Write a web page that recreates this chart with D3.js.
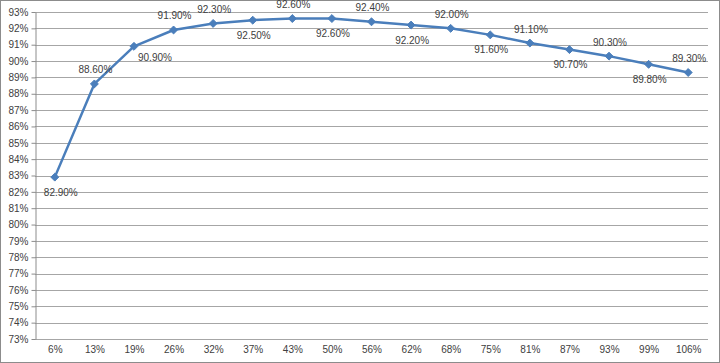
<!DOCTYPE html>
<html>
<head>
<meta charset="utf-8">
<script src="https://cdn.jsdelivr.net/npm/d3@7"></script>
<style>
  body { margin: 0; background: #fff; }
  svg { display: block; font-family: "Liberation Sans", Arial, sans-serif; }
</style>
</head>
<body>
<svg id="chart" width="720" height="363"></svg>
<script>
const categories = ["6%", "13%", "19%", "26%", "32%", "37%", "43%", "50%", "56%", "62%", "68%", "75%", "81%", "87%", "93%", "99%", "106%"];
const efficiency = [82.9, 88.6, 90.9, 91.9, 92.3, 92.5, 92.6, 92.6, 92.4, 92.2, 92.0, 91.6, 91.1, 90.7, 90.3, 89.8, 89.3];
const yTicks = d3.range(73, 94, 1);
// where each data label sits relative to its point
const labelSide = ["below", "above", "right", "above", "above", "below", "above", "below", "above", "below", "above", "below", "above", "below", "above", "below", "above"];

const width = 720, height = 363;
const margin = { top: 12, right: 12, bottom: 24, left: 35 };

const svg = d3.select("#chart");

// outer frame
svg.append("rect")
  .attr("x", 0.5).attr("y", 0.5)
  .attr("width", width - 1).attr("height", height - 1)
  .attr("fill", "#fff")
  .attr("stroke", "#8c8c8c");

const x = d3.scalePoint()
  .domain(categories)
  .range([margin.left, width - margin.right])
  .padding(0.5);

const y = d3.scaleLinear()
  .domain([73, 93])
  .range([height - margin.bottom, margin.top]);

// gridlines
svg.append("g")
  .selectAll("line")
  .data(yTicks)
  .join("line")
  .attr("x1", margin.left)
  .attr("x2", width - margin.right)
  .attr("y1", d => Math.round(y(d)) + 0.5)
  .attr("y2", d => Math.round(y(d)) + 0.5)
  .attr("stroke", "#a6a6a6");

// y axis
const yAxis = svg.append("g")
  .attr("transform", `translate(${margin.left + 0.5},0)`)
  .call(d3.axisLeft(y).tickValues(yTicks).tickSize(4).tickSizeOuter(0).tickFormat(d => d + "%"));
yAxis.select(".domain").attr("stroke", "#8c8c8c");
yAxis.selectAll(".tick line").attr("stroke", "#8c8c8c");
yAxis.selectAll(".tick text").attr("font-size", 10).attr("fill", "#404040").attr("x", -7);

// x axis
const xAxis = svg.append("g")
  .attr("transform", `translate(0,${Math.round(y(73)) + 0.5})`)
  .call(d3.axisBottom(x).tickSize(0).tickSizeOuter(0));
xAxis.select(".domain").remove();
xAxis.selectAll(".tick text").attr("font-size", 10).attr("fill", "#404040").attr("y", 6).attr("dy", "0.71em");

const pts = categories.map((c, i) => ({ c, v: efficiency[i], side: labelSide[i] }));

// line
svg.append("path")
  .datum(pts)
  .attr("fill", "none")
  .attr("stroke", "#4a7ebb")
  .attr("stroke-width", 2.5)
  .attr("stroke-linejoin", "round")
  .attr("d", d3.line().x(d => x(d.c)).y(d => y(d.v)));

// markers
svg.append("g")
  .selectAll("path")
  .data(pts)
  .join("path")
  .attr("transform", d => `translate(${x(d.c)},${y(d.v)})`)
  .attr("d", d3.symbol(d3.symbolDiamond2, 40))
  .attr("fill", "#4a7ebb")
  .attr("stroke", "#4a7ebb");

// data labels
svg.append("g")
  .selectAll("text")
  .data(pts)
  .join("text")
  .attr("x", d => x(d.c) + (d.side === "right" ? 21 : d.side === "below" && d.c === "6%" ? 6 : 1))
  .attr("y", d => y(d.v) + (d.side === "above" ? -14 : d.side === "right" ? 11 : 15))
  .attr("dy", "0.35em")
  .attr("text-anchor", "middle")
  .attr("font-size", 10)
  .attr("fill", "#404040")
  .text(d => d.v.toFixed(2) + "%");
</script>
</body>
</html>
